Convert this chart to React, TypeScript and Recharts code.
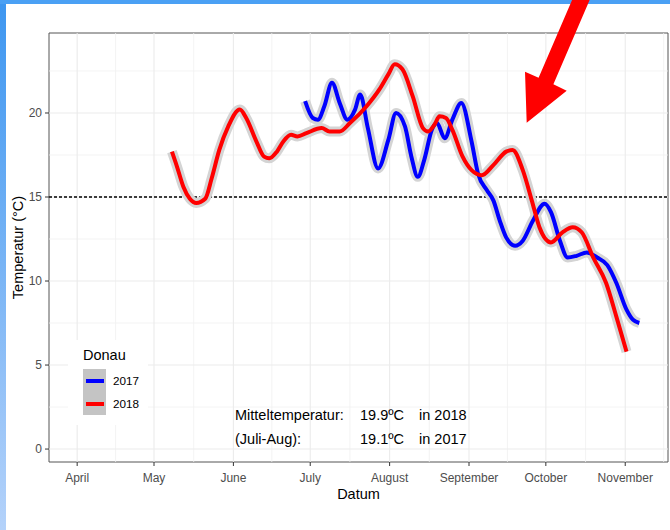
import React from "react";
import {
  ComposedChart,
  Line,
  XAxis,
  YAxis,
  ReferenceLine,
  ReferenceArea,
} from "recharts";

// day of year (2018 calendar) and temperature
const days2017 = [
  180, 183, 185, 187.5, 190.5, 193.5, 196.5, 199.5, 201.5, 204.5, 208.5, 212.5,
  215.5, 219, 221.5, 224, 226.5, 229.5, 231.5, 234.5, 237.5, 241, 245, 247.5,
  251, 253.5, 256, 258.5, 262, 265, 269, 273.5, 276, 279.5, 282.5, 286, 290,
  294, 298, 301.5, 305.5, 308, 310.5,
];
const temps2017 = [
  20.7, 19.7, 19.6, 20.4, 21.8, 20.6, 19.6, 20.2, 21.1, 19.1, 16.7, 18.4, 20.0,
  19.2, 17.4, 16.2, 17.2, 19.0, 19.4, 18.5, 19.6, 20.6, 18.3, 16.4, 15.4, 14.8,
  13.6, 12.6, 12.1, 12.4, 13.6, 14.6, 14.1, 12.4, 11.4, 11.5, 11.7, 11.4, 10.95,
  9.9, 8.3, 7.7, 7.5,
];

const days2018 = [
  128, 130, 132.5, 135, 137.5, 141, 143.5, 146.5, 150, 154.5, 157, 161, 164,
  166, 169, 171.5, 174.5, 177, 180.5, 186.5, 189.5, 193.5, 197.5, 204, 209,
  212.5, 215, 218, 222, 226, 228, 230.5, 232.5, 235, 237.5, 241.5, 245, 249,
  253.5, 258.5, 261, 265, 268.5, 271.5, 276, 280.5, 284.5, 288, 292.5, 297.5,
  301.5, 305.5,
];
const temps2018 = [
  17.7, 16.8, 15.6, 14.9, 14.65, 14.9, 16.1, 17.8, 19.2, 20.2, 19.7, 18.3, 17.4,
  17.3, 17.7, 18.3, 18.7, 18.6, 18.8, 19.1, 18.9, 18.9, 19.4, 20.4, 21.4, 22.3,
  22.9, 22.6, 21.0, 19.1, 18.9, 19.3, 19.8, 19.7, 19.0, 17.4, 16.6, 16.3, 16.9,
  17.7, 17.8, 16.6, 14.8, 13.2, 12.3, 12.9, 13.2, 12.9, 11.4, 9.9, 7.9, 5.8,
];

const monthTicks = [91, 121, 152, 182, 213, 244, 274, 305];
const monthLabels = ["April", "May", "June", "July", "August", "September", "October", "November"];
const monthMinor = [106, 136.5, 167, 197.5, 228.5, 259, 289.5, 320];
const tempTicks = [0, 5, 10, 15, 20];
const tempMinor = [2.5, 7.5, 12.5, 17.5, 22.5];
const threshold = 15;
const xDomain = [80, 321.7];
const yDomain = [-0.77, 24.76];

const series = [
  { name: "2017", color: "#0000ff", days: days2017, temps: temps2017 },
  { name: "2018", color: "#ff0000", days: days2018, temps: temps2018 },
];

const FONT = '"Liberation Sans", Arial, sans-serif';

const LegendBox = () => (
  <div
    style={{
      position: "absolute",
      left: 68,
      top: 340,
      background: "#fff",
      width: 80,
      height: 85,
      paddingLeft: 15,
      boxSizing: "border-box",
      fontFamily: FONT,
    }}
  >
    <div style={{ fontSize: 14.5, lineHeight: "15px", paddingTop: 8, height: 29, boxSizing: "border-box" }}>
      Donau
    </div>
    {series.map((s) => (
      <div key={s.name} style={{ display: "flex", alignItems: "center", height: 23 }}>
        <div
          style={{
            width: 23,
            height: 23,
            background: "#c4c4c4",
            display: "flex",
            alignItems: "center",
            justifyContent: "center",
          }}
        >
          <div style={{ width: 18, height: 4, background: s.color }} />
        </div>
        <span style={{ fontSize: 11.7, marginLeft: 7 }}>{s.name}</span>
      </div>
    ))}
  </div>
);

const noteStyle: React.CSSProperties = {
  position: "absolute",
  fontFamily: FONT,
  fontSize: 14.5,
  lineHeight: "16px",
  color: "#000",
  whiteSpace: "nowrap",
};

export default function App() {
  return (
    <div
      style={{
        position: "fixed",
        left: 0,
        top: 0,
        width: 670,
        height: 530,
        background: "#fff",
        overflow: "hidden",
      }}
    >
      <div
        style={{
          position: "absolute",
          left: 0,
          top: 0,
          width: 6,
          height: 530,
          background: "linear-gradient(#3d96f0, #b4d2fa)",
        }}
      />
      <div style={{ position: "absolute", left: 0, top: 0, width: 670, height: 4, background: "#4aa0f4" }} />

      <div style={{ position: "absolute", left: 0, top: 0 }}>
        <ComposedChart
          width={670}
          height={530}
          margin={{ top: 33, right: 2, left: 0, bottom: 0 }}
          style={{ fontFamily: FONT }}
        >
          <XAxis
            type="number"
            dataKey="day"
            domain={xDomain}
            allowDataOverflow
            ticks={monthTicks}
            tickFormatter={(v: number) => monthLabels[monthTicks.indexOf(v)]}
            interval={0}
            height={68}
            tickSize={4}
            tickMargin={7}
            axisLine={false}
            tickLine={{ stroke: "#333" }}
            tick={{ fill: "#4d4d4d", fontSize: 12 }}
            label={{ value: "Datum", position: "insideTop", offset: 27, fill: "#000", fontSize: 14.5 }}
          />
          <YAxis
            type="number"
            domain={yDomain}
            allowDataOverflow
            ticks={tempTicks}
            interval={0}
            width={49}
            tickSize={4}
            tickMargin={3}
            axisLine={false}
            tickLine={{ stroke: "#333" }}
            tick={{ fill: "#4d4d4d", fontSize: 12 }}
            label={{
              value: "Temperatur (°C)",
              angle: -90,
              position: "insideLeft",
              offset: 18,
              fill: "#000",
              fontSize: 14.5,
              style: { textAnchor: "middle" },
            }}
          />
          {tempMinor.map((v) => (
            <ReferenceLine key={"ym" + v} y={v} stroke="#f0f0f0" strokeWidth={0.8} />
          ))}
          {monthMinor.map((v) => (
            <ReferenceLine key={"xm" + v} x={v} stroke="#f0f0f0" strokeWidth={0.8} />
          ))}
          {tempTicks.map((v) => (
            <ReferenceLine key={"y" + v} y={v} stroke="#ebebeb" strokeWidth={1.1} />
          ))}
          {monthTicks.map((v) => (
            <ReferenceLine key={"x" + v} x={v} stroke="#ebebeb" strokeWidth={1.1} />
          ))}
          <ReferenceLine y={threshold} stroke="#000" strokeWidth={1.6} strokeDasharray="3 2" />

          {series.map((s) => (
            <Line
              key={"band" + s.name}
              data={s.days.map((d, i) => ({ day: d, temp: s.temps[i] }))}
              dataKey="temp"
              type="monotone"
              stroke="#d4d4d4"
              strokeWidth={10}
              strokeLinecap="butt"
              dot={false}
              activeDot={false}
              legendType="none"
              isAnimationActive={false}
            />
          ))}
          {series.map((s) => (
            <Line
              key={s.name}
              name={s.name}
              data={s.days.map((d, i) => ({ day: d, temp: s.temps[i] }))}
              dataKey="temp"
              type="monotone"
              stroke={s.color}
              strokeWidth={4}
              dot={false}
              activeDot={false}
              isAnimationActive={false}
            />
          ))}
          <ReferenceArea
            x1={xDomain[0]}
            x2={xDomain[1]}
            y1={yDomain[0]}
            y2={yDomain[1]}
            fill="none"
            stroke="#555"
            strokeWidth={1}
            ifOverflow="visible"
          />
        </ComposedChart>
      </div>

      <LegendBox />

      <div style={{ ...noteStyle, left: 235, top: 407 }}>Mitteltemperatur:</div>
      <div style={{ ...noteStyle, left: 360, top: 407 }}>19.9ºC</div>
      <div style={{ ...noteStyle, left: 419, top: 407 }}>in 2018</div>
      <div style={{ ...noteStyle, left: 235, top: 431 }}>(Juli-Aug):</div>
      <div style={{ ...noteStyle, left: 360, top: 431 }}>19.1ºC</div>
      <div style={{ ...noteStyle, left: 419, top: 431 }}>in 2017</div>

      <svg
        width={670}
        height={530}
        style={{ position: "absolute", left: 0, top: 0, pointerEvents: "none" }}
      >
        <polygon
          points="575.6,-8.2 590.4,-1.8 553.4,84.2 566.7,90.7 526.7,122.7 525,71.7 538.6,77.8"
          fill="#ff0000"
        />
      </svg>
    </div>
  );
}
